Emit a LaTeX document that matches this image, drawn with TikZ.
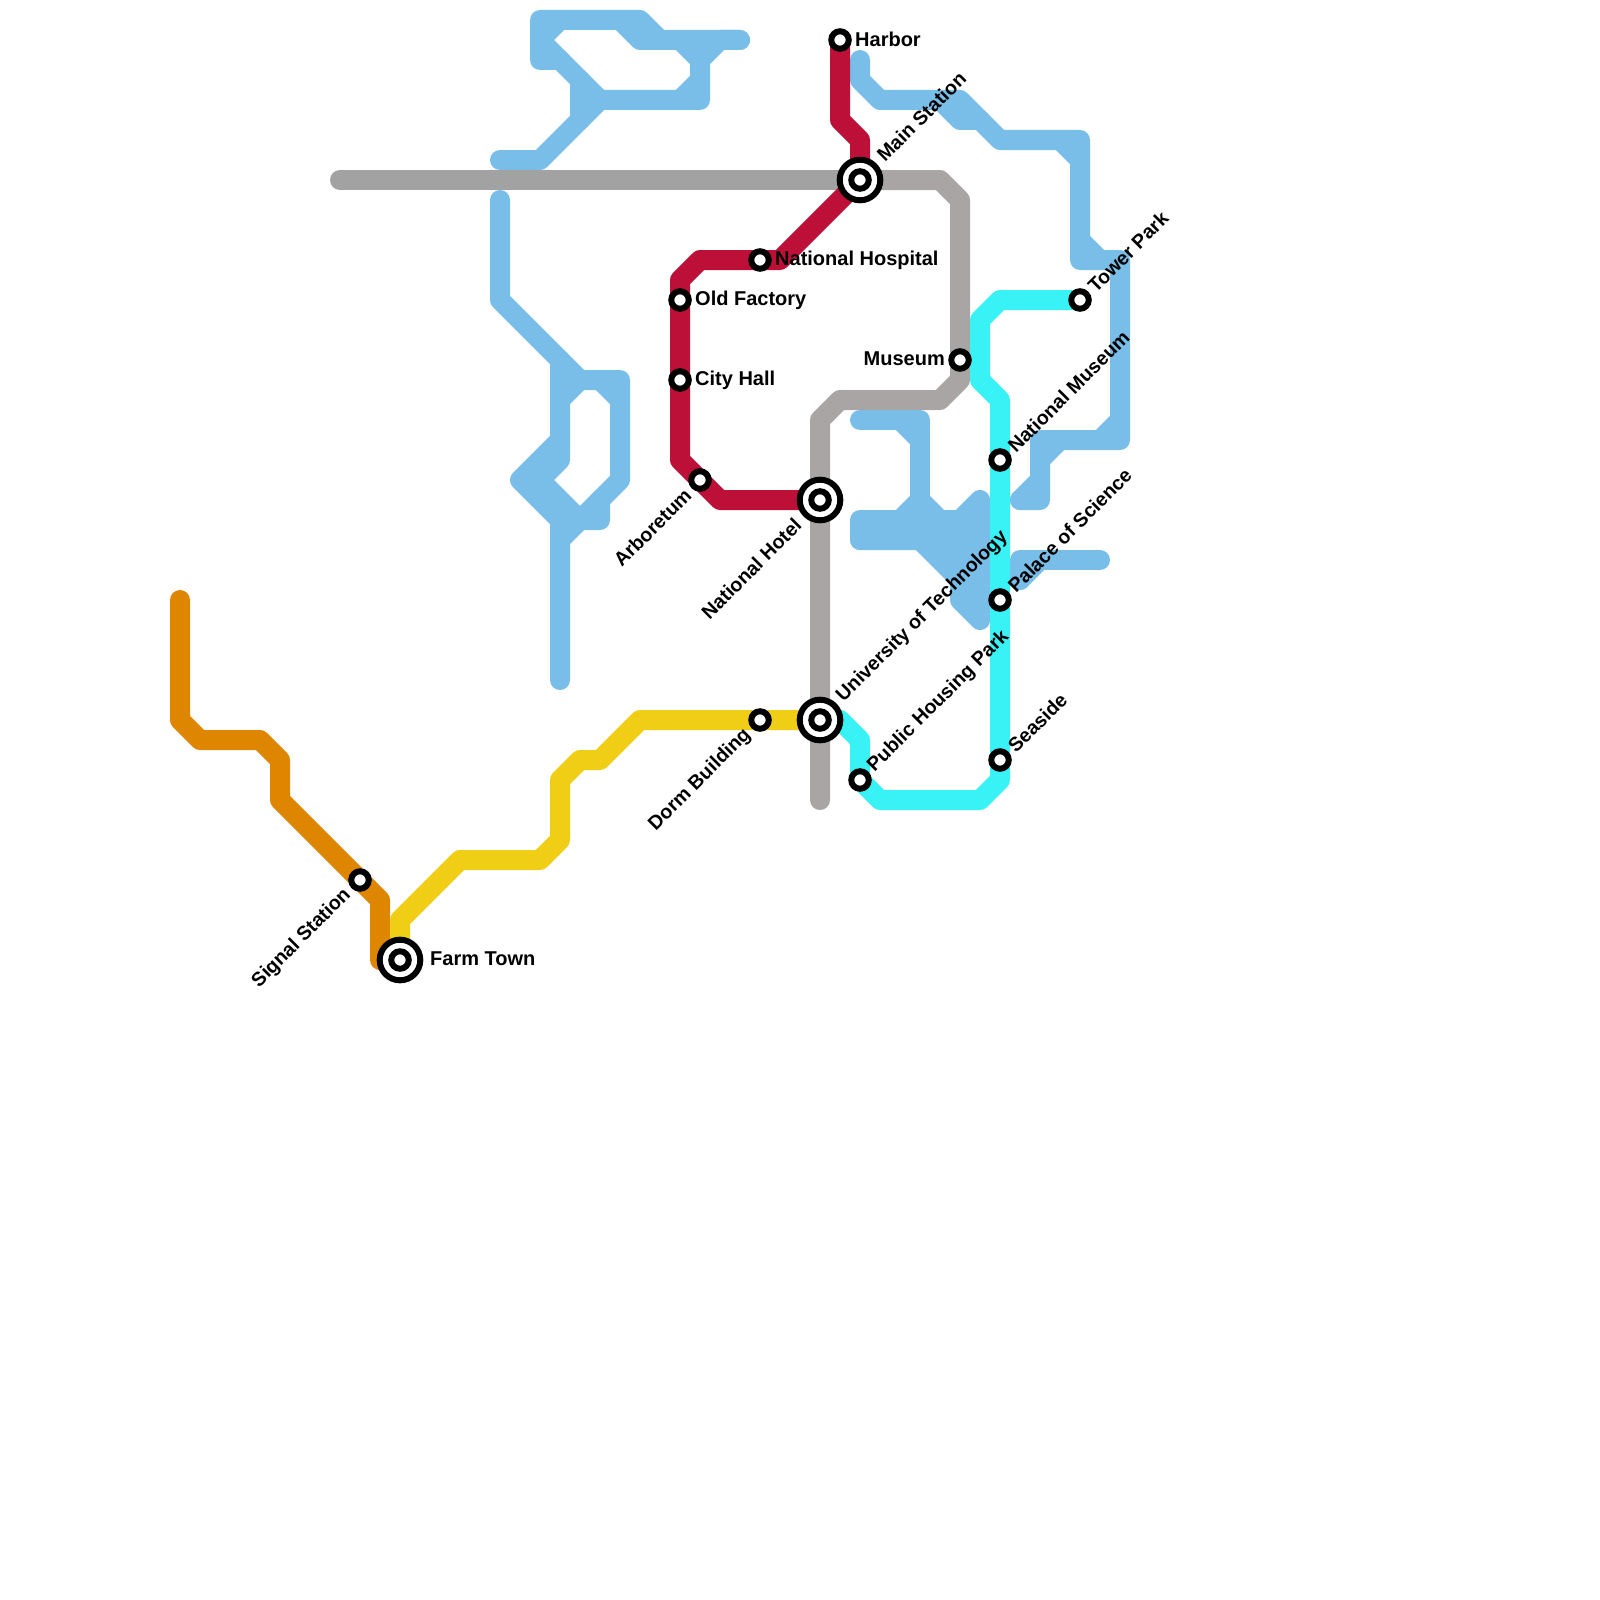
\documentclass[tikz,border=0pt]{standalone}
\usepackage{fontspec}
\setmainfont{Liberation Sans}
\definecolor{cOrange}{HTML}{DF8600}
\definecolor{cYellow}{HTML}{F0CE15}
\definecolor{cRed}{HTML}{BD1038}
\definecolor{cBlue}{HTML}{79BDE9}
\definecolor{cCyan}{HTML}{39F2F5}
\definecolor{cGrayA}{HTML}{A2A2A2}
\definecolor{cGrayB}{HTML}{A8A5A4}
\tikzset{
  metro/.style={line width=20pt,line cap=round,line join=round},
  blueline/.style={metro,draw=cBlue},
  stationdot/.style={circle,draw=black,fill=white,line width=6pt,minimum size=17.5pt,inner sep=0pt},
  stationring/.style={circle,draw=black,fill=white,line width=6pt,minimum size=40.6pt,inner sep=0pt},
  lbl/.style={font=\fontsize{20}{24}\selectfont\bfseries,inner sep=0pt,text=black},
  lblrot/.style={font=\fontsize{19.6}{24}\selectfont\bfseries,inner sep=0pt,text=black,rotate=45},
  lblE/.style={lbl,anchor=west},
  lblW/.style={lbl,anchor=east},
  lblUR/.style={lblrot,anchor=west},
  lblDL/.style={lblrot,anchor=east}
}
\begin{document}
\begin{tikzpicture}[x=1pt,y=-1pt]
\useasboundingbox (0,0) rectangle (1600,1600);
% stations
\coordinate (harbor) at (840,40);
\coordinate (main) at (860,180);
\coordinate (hospital) at (760,260);
\coordinate (factory) at (680,300);
\coordinate (cityhall) at (680,380);
\coordinate (arboretum) at (700,480);
\coordinate (hotel) at (820,500);
\coordinate (univ) at (820,720);
\coordinate (dorm) at (760,720);
\coordinate (housing) at (860,780);
\coordinate (seaside) at (1000,760);
\coordinate (palace) at (1000,600);
\coordinate (natmuseum) at (1000,460);
\coordinate (museum) at (960,360);
\coordinate (tower) at (1080,300);
\coordinate (signal) at (360,880);
\coordinate (farm) at (400,960);
% blue line fragments
\draw[blueline] (500,160)--(540,160)--(600,100)--(700,100)--(700,60)--(720,40)--(740,40);
\draw[blueline] (560,60)--(540,60)--(540,20)--(640,20)--(660,40);
\draw[blueline] (620,20)--(640,40)--(740,40);
\draw[blueline] (680,40)--(700,60);
\draw[blueline] (540,40)--(600,100);
\draw[blueline] (540,40)--(560,20);
\draw[blueline] (580,80)--(580,120);
\draw[blueline] (680,100)--(700,80);
\draw[blueline] (500,200)--(500,300)--(580,380)--(620,380)--(620,480)--(560,540)--(560,680);
\draw[blueline] (560,360)--(560,460)--(540,480)--(580,520)--(600,520)--(600,500);
\draw[blueline] (560,440)--(520,480)--(560,520)--(560,540);
\draw[blueline] (560,400)--(580,380);
\draw[blueline] (600,380)--(620,400);
\draw[blueline] (860,420)--(920,420)--(920,520);
\draw[blueline] (900,420)--(920,440);
\draw[blueline] (900,520)--(920,500)--(940,520);
\draw[blueline] (860,540)--(860,520)--(960,520)--(980,500)--(980,620)--(960,600)--(960,560);
\draw[blueline] (860,540)--(920,540)--(980,600);
\fill[cBlue] (860,520)--(980,520)--(980,600)--(920,540)--(860,540)--cycle;
\draw[blueline] (1020,500)--(1040,500)--(1040,440)--(1120,440)--(1120,260)--(1080,260)--(1080,140)--(1000,140)--(960,100)--(880,100)--(860,80)--(860,60);
\draw[blueline] (1040,480)--(1020,500);
\draw[blueline] (1040,460)--(1060,440);
\draw[blueline] (1100,440)--(1120,420);
\draw[blueline] (1060,140)--(1080,160);
\draw[blueline] (1080,240)--(1100,260);
\draw[blueline] (940,100)--(960,120)--(980,120);
\draw[blueline] (1020,580)--(1020,560)--(1100,560);
\draw[blueline] (1020,580)--(1040,560);
% other lines
\draw[metro,draw=cOrange] (180,600)--(180,720)--(200,740)--(260,740)--(280,760)--(280,800)--(signal)--(380,900)--(380,960)--(farm);
\draw[metro,draw=cYellow] (farm)--(400,920)--(460,860)--(540,860)--(560,840)--(560,780)--(580,760)--(600,760)--(640,720)--(dorm)--(univ);
\draw[metro,draw=cGrayA] (340,180)--(main);
\draw[metro,draw=cGrayB] (main)--(940,180)--(960,200)--(museum)--(960,380)--(940,400)--(840,400)--(820,420)--(hotel)--(univ)--(820,800);
\draw[metro,draw=cRed] (harbor)--(840,120)--(860,140)--(main)--(780,260)--(hospital)--(700,260)--(680,280)--(factory)--(cityhall)--(680,460)--(arboretum)--(720,500)--(hotel);
\draw[metro,draw=cCyan] (univ)--(840,720)--(860,740)--(housing)--(880,800)--(980,800)--(1000,780)--(seaside)--(palace)--(natmuseum)--(1000,400)--(980,380)--(980,320)--(1000,300)--(tower);
% markers
\foreach \n in {main,hotel,univ,farm} \node[stationring] (ring-\n) at (\n) {};
\foreach \n in {harbor,main,hospital,factory,cityhall,arboretum,hotel,univ,dorm,housing,seaside,palace,natmuseum,museum,tower,signal,farm} \node[stationdot] (dot-\n) at (\n) {};
% labels
\node[lblE] (t1) at (855,39) {Harbor};
\node[lblUR] (t2) at (880,158) {Main Station};
\node[lblE] (t3) at (775,260) {National Hospital};
\node[lblE] (t4) at (695,300) {Old Factory};
\node[lblE] (t5) at (695,380) {City Hall};
\node[lblDL] (t6) at (688,492) {Arboretum};
\node[lblDL] (t7) at (798,522) {National Hotel};
\node[lblUR] (t8) at (840,699) {University of Technology};
\node[lblDL] (t9) at (748,732) {Dorm Building};
\node[lblUR] (t10) at (871,769) {Public Housing Park};
\node[lblUR] (t11) at (1011,749) {Seaside};
\node[lblUR] (t12) at (1011,589) {Palace of Science};
\node[lblUR] (t13) at (1011,449) {National Museum};
\node[lblW] (t14) at (945,359) {Museum};
\node[lblUR] (t15) at (1091,289) {Tower Park};
\node[lblDL] (t16) at (348,892) {Signal Station};
\node[lblE] (t17) at (430,959) {Farm Town};
\end{tikzpicture}
\end{document}
